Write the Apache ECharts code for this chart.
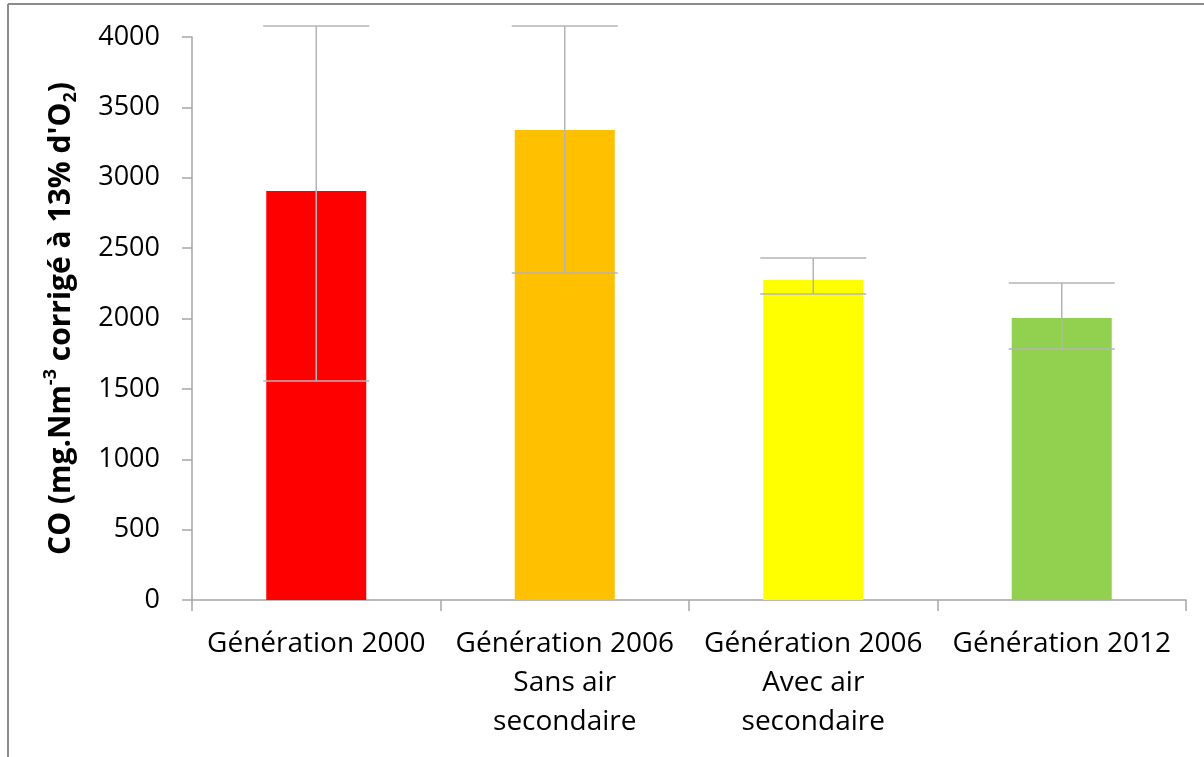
<!DOCTYPE html>
<html>
<head>
<meta charset="utf-8">
<script src="https://cdn.jsdelivr.net/npm/echarts@6/dist/echarts.min.js"></script>
<style>
  html, body { margin: 0; padding: 0; background: #fff; }
  #main { width: 1204px; height: 757px; }
</style>
</head>
<body>
<div id="main"></div>
<script>
// categories (x axis)
var categories = [
    'Génération 2000',
    'Génération 2006\nSans air\nsecondaire',
    'Génération 2006\nAvec air\nsecondaire',
    'Génération 2012'
];
// mean CO values
var coValues = [2906, 3339, 2273, 2004];
// error bar bounds
var errLow = [1556, 2323, 2174, 1783];
var errHigh = [4078, 4078, 2430, 2252];
var barColors = ['#ff0000', '#ffc000', '#ffff00', '#92d050'];
var yTicks = [0, 4000, 500]; // min, max, interval

var myChart = echarts.init(document.getElementById('main'));

var errData = [];
for (var i = 0; i < categories.length; i++) {
    errData.push([i, errLow[i], errHigh[i]]);
}

var option = {
    animation: false,
    backgroundColor: '#fff',
    grid: { left: 192, right: 18, top: 37, bottom: 157 },
    graphic: [
        // outer frame (only left and top visible)
        { type: 'line', shape: { x1: 8, y1: 4, x2: 1204, y2: 4 }, style: { stroke: '#8c8c8c', lineWidth: 2 } },
        { type: 'line', shape: { x1: 8, y1: 4, x2: 8, y2: 757 }, style: { stroke: '#8c8c8c', lineWidth: 2 } }
    ],
    xAxis: {
        type: 'category',
        data: categories,
        axisLine: { lineStyle: { color: '#a6a6a6', width: 1.5 } },
        axisTick: { show: true, length: 11, lineStyle: { color: '#a6a6a6', width: 1.5 } },
        axisLabel: {
            interval: 0,
            margin: 25,
            fontFamily: 'Open Sans',
            fontSize: 28,
            color: '#000',
            lineHeight: 39
        }
    },
    yAxis: {
        type: 'value',
        min: yTicks[0],
        max: yTicks[1],
        interval: yTicks[2],
        splitLine: { show: false },
        axisLine: { show: true, lineStyle: { color: '#a6a6a6', width: 1.5 } },
        axisTick: { show: true, length: 10, lineStyle: { color: '#a6a6a6', width: 1.5 } },
        axisLabel: {
            margin: 32,
            fontFamily: 'Open Sans',
            fontSize: 27,
            color: '#000',
            formatter: function (v) { return String(v); }
        },
        name: '{b|CO (mg.Nm}{sup|-3}{b| corrigé à 13% d\'O}{sub|2}{b|)}',
        nameLocation: 'middle',
        nameRotate: 90,
        nameGap: 112,
        nameTextStyle: {
            rich: {
                b: { fontFamily: 'Open Sans', fontWeight: 'bold', fontSize: 30, color: '#000', lineHeight: 38 },
                sup: { fontFamily: 'Open Sans', fontWeight: 'bold', fontSize: 18, color: '#000', lineHeight: 38, verticalAlign: 'top' },
                sub: { fontFamily: 'Open Sans', fontWeight: 'bold', fontSize: 18, color: '#000', lineHeight: 38, verticalAlign: 'bottom' }
            }
        }
    },
    series: [
        {
            type: 'bar',
            barWidth: 100,
            data: coValues.map(function (v, i) {
                return { value: v, itemStyle: { color: barColors[i] } };
            })
        },
        {
            type: 'custom',
            data: errData,
            z: 10,
            renderItem: function (params, api) {
                var x = api.value(0);
                var lo = api.coord([x, api.value(1)]);
                var hi = api.coord([x, api.value(2)]);
                var half = 53;
                var st = { stroke: '#b4b4b4', lineWidth: 1.5 };
                return {
                    type: 'group',
                    children: [
                        { type: 'line', shape: { x1: hi[0], y1: hi[1], x2: lo[0], y2: lo[1] }, style: st },
                        { type: 'line', shape: { x1: hi[0] - half, y1: hi[1], x2: hi[0] + half, y2: hi[1] }, style: st },
                        { type: 'line', shape: { x1: lo[0] - half, y1: lo[1], x2: lo[0] + half, y2: lo[1] }, style: st }
                    ]
                };
            }
        }
    ]
};
myChart.setOption(option);
</script>
</body>
</html>
